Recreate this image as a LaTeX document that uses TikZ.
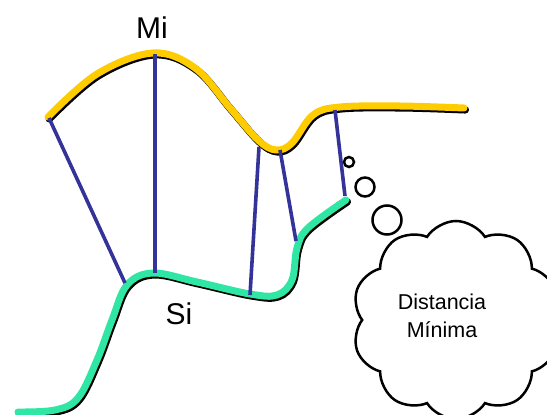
\documentclass[tikz,border=0pt]{standalone}
\usepackage{fontspec}
\setmainfont{Liberation Sans}
\usetikzlibrary{shapes.symbols}
\definecolor{ylw}{HTML}{FFCC00}
\definecolor{grn}{HTML}{30E6A4}
\definecolor{navy}{HTML}{333399}
\tikzset{
  shadowline/.style={line width=7.5pt, black, line cap=round, line join=round},
  ylwline/.style={line width=7pt, ylw, line cap=round, line join=round},
  grnline/.style={line width=7pt, grn, line cap=round, line join=round},
  link/.style={line width=3.6pt, navy},
  bubble/.style={circle, draw=black, line width=2.5pt, inner sep=0pt},
  lbl/.style={font=\fontsize{30}{34}\selectfont, inner sep=0pt}
}
\begin{document}
\begin{tikzpicture}[x=1pt,y=-1pt]
\useasboundingbox (0,0) rectangle (547,415);
\clip (0,0) rectangle (547,415);
% curves (Mi yellow, Si green)
\def\ypts{(48,117) (97,74) (153,53) (195,68) (230,108) (258,140) (276,150) (292,143) (313,115) (340,107) (400,106) (464,108)}
\def\gpts{(18,412) (55,410) (78,398) (97,360) (112,320) (127,285) (153,273) (197,282) (250,294) (277,295) (292,280) (297,248) (308,228) (346,200)}
\begin{scope}[shift={(1.3,1.8)}]
\draw[shadowline] plot[smooth, tension=0.6] coordinates {\ypts};
\draw[shadowline] plot[smooth, tension=0.6] coordinates {\gpts};
\end{scope}
\draw[ylwline] plot[smooth, tension=0.6] coordinates {\ypts};
\draw[grnline] plot[smooth, tension=0.6] coordinates {\gpts};
% link end points
\coordinate (m1) at (49,118);
\coordinate (s1) at (125,283);
\coordinate (m2) at (155,54);
\coordinate (s2) at (155,273);
\coordinate (m3) at (259,147);
\coordinate (s3) at (250,295);
\coordinate (m4) at (280,150);
\coordinate (s4) at (296,241);
\coordinate (m5) at (335,110);
\coordinate (s5) at (345,196);
\draw[link] (m1) -- (s1);
\draw[link] (m2) -- (s2);
\draw[link] (m3) -- (s3);
\draw[link] (m4) -- (s4);
\draw[link] (m5) -- (s5);
% labels
\node[lbl] (mi) at (152,28) {Mi};
\node[lbl] (si) at (179,314) {Si};
% thought bubbles
\node[bubble, minimum size=10pt] (b1) at (349,162) {};
\node[bubble, minimum size=19pt] (b2) at (365,187) {};
\node[bubble, minimum size=29pt] (b3) at (387,220) {};
\node[cloud, draw=black, line width=2.5pt, cloud puffs=10, cloud puff arc=115,
      minimum width=208pt, minimum height=198pt, inner sep=0pt] (cl) at (456,320) {};
\node[align=center, font=\fontsize{21.5}{28}\selectfont] (txt) at (442,316) {Distancia\\Mínima};
\end{tikzpicture}
\end{document}
